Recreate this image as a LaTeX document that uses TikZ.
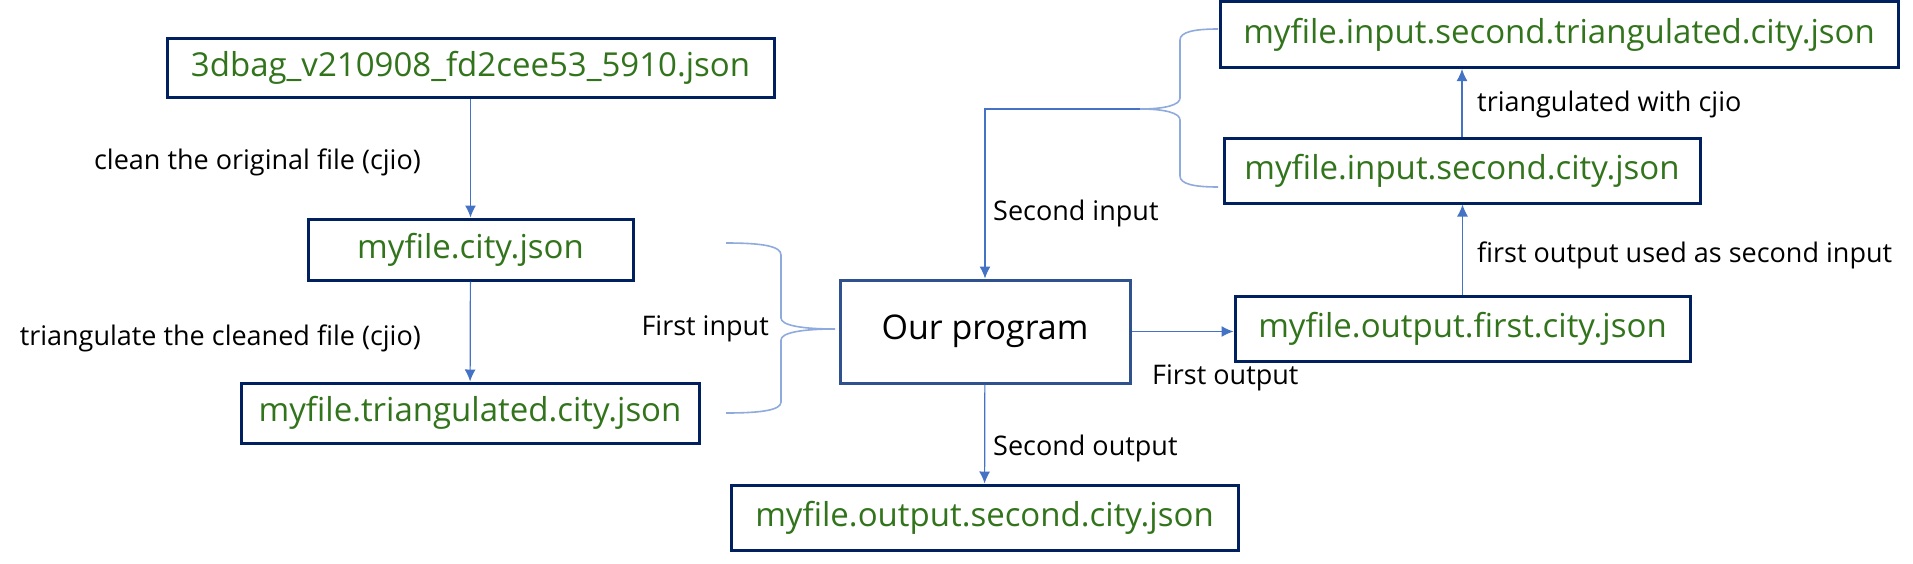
\documentclass[tikz,border=0pt]{standalone}
\usepackage{fontspec}
\setmainfont{Open Sans}
\usepackage{xcolor}
\usepackage{tikz}
\usetikzlibrary{arrows.meta}

\definecolor{vertTexte}{RGB}{50,116,28}
\definecolor{bleuCadre}{RGB}{0,32,96}
\definecolor{bleuProg}{RGB}{47,82,143}
\definecolor{bleuFleche}{RGB}{68,114,196}
\definecolor{bleuAccolade}{RGB}{143,170,220}

\begin{document}
\begin{tikzpicture}[x=1pt,y=-1pt]
% Styles (MODIFIABLES)
\tikzstyle{fleche}=[-{Latex[length=12pt,width=11pt]},bleuFleche,line width=1.2pt]
\tikzstyle{fichier}=[draw=bleuCadre,line width=3pt,text=vertTexte,inner sep=0pt,font=\fontsize{33}{40}\selectfont]
\tikzstyle{programme}=[draw=bleuProg,line width=3pt,text=black,inner sep=0pt,font=\fontsize{34}{40}\selectfont]
\tikzstyle{etiquette}=[black,inner sep=0pt,font=\fontsize{27}{32}\selectfont]
\tikzstyle{accolade}=[bleuAccolade,line width=1.6pt]
% Cadre
\useasboundingbox (0,0) rectangle (1913,563);
% Noeuds
\node[fichier,minimum width=607,minimum height=59] (Orig) at (470.5,67.5) {3dbag\_v210908\_fd2cee53\_5910.json};
\node[fichier,minimum width=325,minimum height=61] (Prop) at (470.5,249.5) {myfile.city.json};
\node[fichier,minimum width=458,minimum height=60] (Tri) at (470,413) {myfile.triangulated.city.json};
\node[programme,minimum width=290,minimum height=103] (Prog) at (985,331.5) {Our program};
\node[fichier,minimum width=507,minimum height=65] (SortB) at (984.5,517.5) {myfile.output.second.city.json};
\node[fichier,minimum width=455,minimum height=65] (SortA) at (1462.5,328.5) {myfile.output.first.city.json};
\node[fichier,minimum width=476,minimum height=65] (EntB) at (1462,170.5) {myfile.input.second.city.json};
\node[fichier,minimum width=678,minimum height=66] (EntBTri) at (1559,34.5) {myfile.input.second.triangulated.city.json};
% Etiquettes
\node[etiquette,anchor=east] (Lnet) at (421,162) {clean the original file (cjio)};
\node[etiquette,anchor=east] (Ltri) at (421,338) {triangulate the cleaned file (cjio)};
\node[etiquette,anchor=east] (LentA) at (769,329) {First input};
\node[etiquette,anchor=west] (LentB) at (993,213) {Second input};
\node[etiquette,anchor=west] (LsortA) at (1152,378) {First output};
\node[etiquette,anchor=west] (LsortB) at (993,448) {Second output};
\node[etiquette,anchor=west] (LtriB) at (1477,104) {triangulated with cjio};
\node[etiquette,anchor=west] (Lusage) at (1477,255) {first output used as second input};
% Accolades
\coordinate (PointeA) at (835,329);
\coordinate (PointeB) at (1140,109);
\draw[accolade] (726,243) .. controls (762,243) and (781,246) .. (781,255) -- (781,318)
  .. controls (781,325) and (800,329) .. (PointeA)
  .. controls (800,329) and (781,333) .. (781,340) -- (781,402)
  .. controls (781,410) and (762,413) .. (726,413);
\draw[accolade] (1218,29) .. controls (1194,29) and (1180,32) .. (1180,40) -- (1180,98)
  .. controls (1180,105) and (1165,109) .. (PointeB)
  .. controls (1165,109) and (1180,113) .. (1180,120) -- (1180,176)
  .. controls (1180,184) and (1194,187) .. (1218,187);
% Arcs
\draw[fleche] (Orig) -- (Prop);
\draw[fleche] (Prop) -- (Tri);
\draw[fleche] (PointeB) -| (Prog.north);
\draw[fleche] (Prog.east) -- (Prog.east -| SortA.west);
\draw[fleche] (Prog) -- (SortB);
\draw[fleche] (SortA.north) -- (SortA.north |- EntB.south);
\draw[fleche] (EntB.north) -- (EntB.north |- EntBTri.south);
\end{tikzpicture}
\end{document}
